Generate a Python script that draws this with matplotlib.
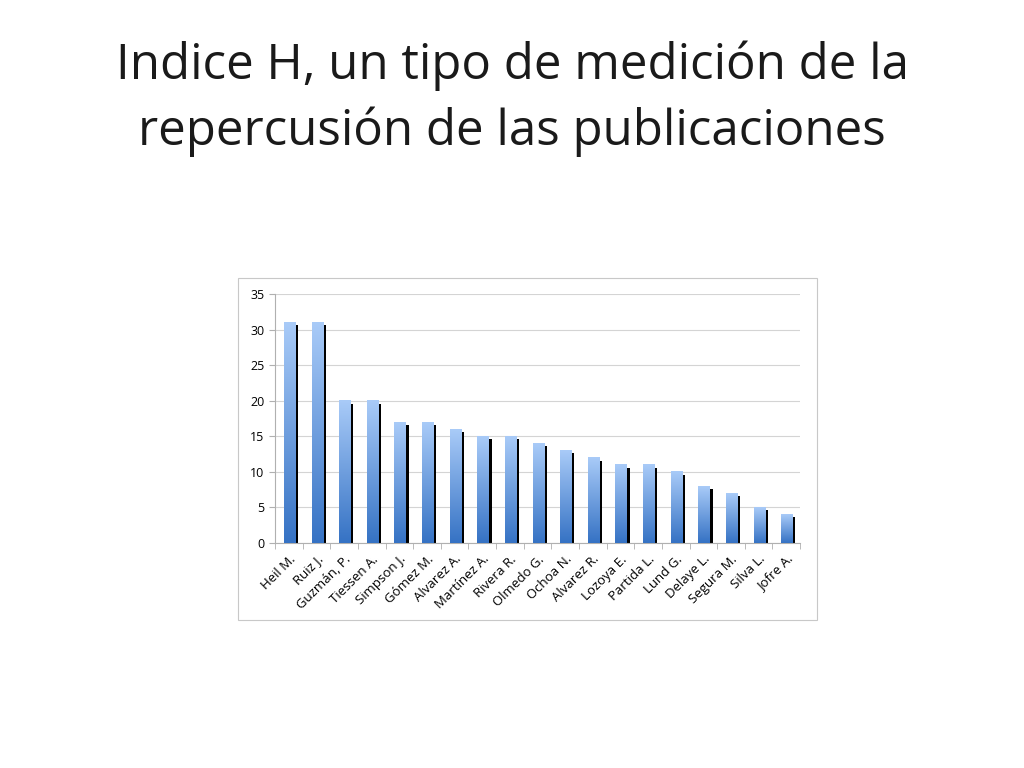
import numpy as np
import matplotlib.pyplot as plt
from matplotlib.colors import LinearSegmentedColormap
from matplotlib.patches import Rectangle

authors = ["Heil M.", "Ruiz J.", "Guzmán, P.", "Tiessen A.", "Simpson J.", "Gómez M.",
           "Alvarez A.", "Martínez A.", "Rivera R.", "Olmedo G.", "Ochoa N.", "Alvarez R.",
           "Lozoya E.", "Partida L.", "Lund G.", "Delaye L.", "Segura M.", "Silva L.", "Jofre A."]
h_index = [31, 31, 20, 20, 17, 17, 16, 15, 15, 14, 13, 12, 11, 11, 10, 8, 7, 5, 4]
y_ticks = [0, 5, 10, 15, 20, 25, 30, 35]

plt.rcParams['font.family'] = ['Open Sans', 'DejaVu Sans']

fig = plt.figure(figsize=(10.24, 7.68), dpi=100)
fig.patch.set_facecolor('white')

fig.text(0.5, 0.914, "Indice H, un tipo de medición de la", ha='center', va='center',
         fontsize=35.5, color='#1a1a1a')
fig.text(0.5, 0.829, "repercusión de las publicaciones", ha='center', va='center',
         fontsize=35.5, color='#1a1a1a')

# chart frame
fig.patches.append(Rectangle((0.2324, 0.193), 0.5654, 0.4453, transform=fig.transFigure,
                             facecolor='white', edgecolor='#c8c8c8', linewidth=0.8, zorder=-5))

ax = fig.add_axes([0.2686, 0.293, 0.5127, 0.324])
ax.set_facecolor('none')

cmap = LinearSegmentedColormap.from_list('bar', ['#3572c4', '#a9cbf8'])
grad = np.linspace(0, 1, 256).reshape(-1, 1)

x = np.arange(len(authors))
for xi, v in zip(x, h_index):
    # dark shadow on the right side
    ax.bar(xi + 0.28, v - 0.4, width=0.11, color='black', zorder=2)
    ax.imshow(grad, extent=[xi - 0.18, xi + 0.24, 0, v], origin='lower',
              aspect='auto', cmap=cmap, zorder=3)

ax.set_xlim(-0.5, len(authors) - 0.5)
ax.set_ylim(0, 35)
ax.set_yticks(y_ticks)
ax.yaxis.grid(True, color='#d4d4d4', linewidth=0.8)
ax.set_axisbelow(True)
ax.set_xticks(x)
ax.set_xticklabels(authors, rotation=45, ha='right', rotation_mode='anchor', fontsize=9.5)
ax.set_xticks(np.arange(len(authors) + 1) - 0.5, minor=True)
ax.tick_params(axis='x', which='major', length=0, pad=7)
ax.tick_params(axis='x', which='minor', length=4, color='#b0b0b0')
ax.tick_params(axis='y', length=4, color='#b0b0b0', labelsize=9)
for s in ['top', 'right']:
    ax.spines[s].set_visible(False)
for s in ['left', 'bottom']:
    ax.spines[s].set_color('#b0b0b0')

fig.savefig('out.png', dpi=100)
